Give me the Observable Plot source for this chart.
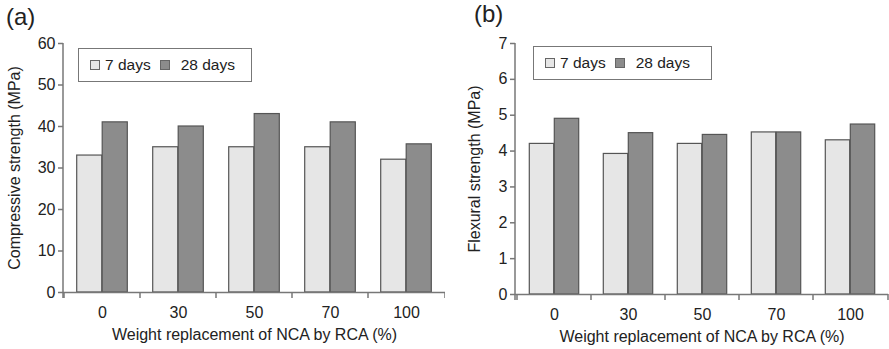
<!DOCTYPE html>
<html>
<head>
<meta charset="utf-8">
<script src="https://cdn.jsdelivr.net/npm/d3@7"></script>
<script src="https://cdn.jsdelivr.net/npm/@observablehq/plot@0.6"></script>
<style>
  html, body { margin: 0; padding: 0; background: #fff; }
  #wrap { position: relative; width: 889px; height: 349px; font-family: "Liberation Sans", Arial, sans-serif; color: #222; overflow: hidden; }
  .panel { position: absolute; top: 0; }
  .tag { position: absolute; font-size: 24px; color: #222; }
  .legend { position: absolute; border: 1.5px solid #777; background: #fff; box-sizing: border-box; display: flex; align-items: center; font-size: 15.5px; color: #222; }
  .sw { display: inline-block; width: 8px; height: 8px; border: 1px solid #666; margin-right: 5px; }
</style>
</head>
<body>
<div id="wrap"></div>
<script>
const categories = ["0", "30", "50", "70", "100"];
const seriesNames = ["7 days", "28 days"];
const compressive7 = [33, 35, 35, 35, 32];
const compressive28 = [41, 40, 43, 41, 35.7];
const flexural7 = [4.2, 3.92, 4.2, 4.52, 4.3];
const flexural28 = [4.9, 4.5, 4.45, 4.52, 4.74];
const yTicksA = [0, 10, 20, 30, 40, 50, 60];
const yTicksB = [0, 1, 2, 3, 4, 5, 6, 7];
const xTitle = "Weight replacement of NCA by RCA (%)";
const yTitleA = "Compressive strength (MPa)";
const yTitleB = "Flexural strength (MPa)";
const panelTags = ["(a)", "(b)"];

const lightFill = "#e6e6e6", darkFill = "#8c8c8c", barStroke = "#555", axisColor = "#777";

function panel({w, ml, mr, mt, mb, v7, v28, yTicks, yLabel, yLabelOffset, barW}) {
  const rows7 = categories.map((c, i) => ({cat: c, v: v7[i]}));
  const rows28 = categories.map((c, i) => ({cat: c, v: v28[i]}));
  const bw = (w - ml - mr) / categories.length;
  const axisDecor = (index, scales, values, dim) => {
    const g = d3.create("svg:g").attr("stroke", axisColor).attr("stroke-width", 1.5);
    const y0 = scales.y(0), yTop = scales.y(yTicks[yTicks.length - 1]);
    g.append("line").attr("x1", dim.marginLeft).attr("x2", dim.marginLeft).attr("y1", y0 + 6).attr("y2", yTop);
    const xs = categories.map(c => scales.x(c)).concat([dim.width - dim.marginRight]);
    for (const x of xs) g.append("line").attr("x1", x).attr("x2", x).attr("y1", y0).attr("y2", y0 + 6);
    return g.node();
  };
  return Plot.plot({
    width: w, height: 349,
    marginLeft: ml, marginRight: mr, marginTop: mt, marginBottom: mb,
    style: {fontFamily: "'Liberation Sans', Arial, sans-serif", fontSize: "16px", color: "#222", background: "transparent"},
    x: {domain: categories, padding: 0},
    y: {domain: [0, yTicks[yTicks.length - 1]]},
    marks: [
      Plot.barY(rows7, {x: "cat", y: "v", fill: lightFill, stroke: barStroke, strokeWidth: 1.2, insetLeft: bw / 2 - barW, insetRight: bw / 2}),
      Plot.barY(rows28, {x: "cat", y: "v", fill: darkFill, stroke: barStroke, strokeWidth: 1.2, insetLeft: bw / 2, insetRight: bw / 2 - barW}),
      Plot.ruleY([0], {stroke: axisColor, strokeWidth: 1.5}),
      axisDecor,
      Plot.axisY({ticks: yTicks, tickFormat: d3.format("d"), tickSize: 5, tickPadding: 3, stroke: axisColor, strokeWidth: 1.5, fill: "#222",
        label: yLabel, labelAnchor: "center", labelArrow: "none", labelOffset: yLabelOffset}),
      Plot.axisX({tickSize: 0, tickPadding: 14, fill: "#222",
        label: xTitle, labelAnchor: "center", labelArrow: "none", labelOffset: 47})
    ]
  });
}

const wrap = document.getElementById("wrap");

const pa = panel({w: 445, ml: 63, mr: 0, mt: 43, mb: 57, v7: compressive7, v28: compressive28, yTicks: yTicksA, yLabel: yTitleA, yLabelOffset: 55, barW: 25.5});
const da = document.createElement("div"); da.className = "panel"; da.style.left = "0px"; da.appendChild(pa); wrap.appendChild(da);

const pb = panel({w: 444, ml: 70, mr: 1, mt: 43, mb: 55, v7: flexural7, v28: flexural28, yTicks: yTicksB, yLabel: yTitleB, yLabelOffset: 47, barW: 25});
const db = document.createElement("div"); db.className = "panel"; db.style.left = "445px"; db.appendChild(pb); wrap.appendChild(db);

function tag(text, x, y) {
  const t = document.createElement("div"); t.className = "tag"; t.textContent = text;
  t.style.left = x + "px"; t.style.top = y + "px"; wrap.appendChild(t);
}
tag(panelTags[0], 6, 3);
tag(panelTags[1], 474, 0);

function legend(x, y, w, h) {
  const L = document.createElement("div"); L.className = "legend";
  Object.assign(L.style, {left: x + "px", top: y + "px", width: w + "px", height: h + "px", paddingLeft: "11px"});
  const fills = [lightFill, darkFill];
  seriesNames.forEach((name, i) => {
    const s = document.createElement("span"); s.className = "sw"; s.style.background = fills[i];
    if (i > 0) s.style.marginLeft = "9px";
    if (i > 0) s.style.marginRight = "11px";
    const t = document.createElement("span"); t.textContent = name;
    L.appendChild(s); L.appendChild(t);
  });
  wrap.appendChild(L);
}
legend(78, 48, 174, 34);
legend(533, 46, 179, 34);
</script>
</body>
</html>
